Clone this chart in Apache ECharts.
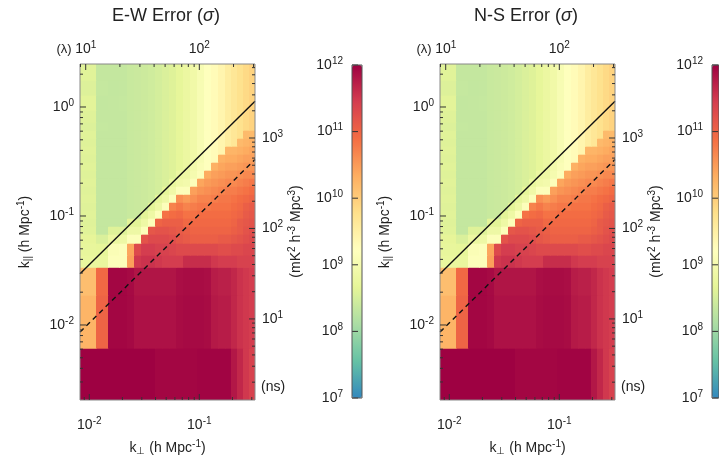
<!DOCTYPE html>
<html><head><meta charset="utf-8">
<script src="https://cdn.jsdelivr.net/npm/echarts@6/dist/echarts.min.js"></script>
<style>html,body{margin:0;padding:0;background:#fff}#c{width:719px;height:465px}</style>
</head><body><div id="c"></div>
<script>
// ---- data ----
const kperpEdges = [0.00823,0.01151,0.01479,0.01862,0.0220,0.0255,0.02951,0.03418,0.03956,0.0458,0.05303,0.0614,0.07108,0.08232,0.0953,0.1103,0.1278,0.1479,0.1713,0.1942,0.2201,0.2496,0.283,0.3209];
const kparEdges = [0.00205,0.00615,0.01884,0.034,0.0439,0.0565,0.0684,0.0809,0.0959,0.1135,0.1343,0.159,0.1884,0.2232,0.2643,0.3129,0.3706,0.4388,0.5196,0.6152,0.7286,0.9387,1.288,1.769,2.48];
// log10 power, rows listed from the top (highest k_par) down to the bottom
const ewPower = [
[8.62,8.35,8.35,8.35,8.38,8.4,8.42,8.45,8.5,8.55,8.6,8.7,8.8,8.9,9.05,9.2,9.3,9.4,9.55,9.65,9.75,9.85,9.92],
[8.58,8.36,8.34,8.35,8.38,8.4,8.42,8.45,8.5,8.55,8.6,8.7,8.8,8.9,9.05,9.2,9.3,9.4,9.55,9.65,9.75,9.85,9.92],
[8.64,8.34,8.35,8.36,8.38,8.4,8.42,8.45,8.5,8.55,8.6,8.7,8.8,8.9,9.05,9.2,9.3,9.4,9.55,9.65,9.75,9.85,9.92],
[8.6,8.35,8.35,8.35,8.38,8.4,8.42,8.45,8.5,8.55,8.6,8.7,8.8,8.9,9.05,9.2,9.3,9.4,9.55,9.65,9.75,9.85,9.92],
[8.57,8.36,8.35,8.35,8.38,8.4,8.42,8.45,8.5,8.55,8.6,8.7,8.8,8.9,9.05,9.2,9.3,9.4,9.55,9.65,9.75,9.85,9.92],
[8.62,8.35,8.35,8.35,8.38,8.4,8.42,8.45,8.5,8.55,8.6,8.7,8.8,8.9,9.05,9.2,9.3,9.4,9.55,9.65,9.75,10.2,10.2],
[8.6,8.35,8.35,8.35,8.38,8.4,8.42,8.45,8.5,8.55,8.6,8.7,8.8,8.9,9.05,9.2,9.3,9.4,9.55,9.65,10.2,10.25,10.3],
[8.62,8.35,8.35,8.35,8.38,8.4,8.42,8.45,8.5,8.55,8.6,8.7,8.8,8.9,9.05,9.2,9.3,9.4,10.25,10.25,10.3,10.35,10.4],
[8.6,8.35,8.35,8.35,8.38,8.4,8.42,8.45,8.5,8.55,8.6,8.7,8.8,8.9,9.05,9.2,9.3,10.3,10.35,10.35,10.4,10.45,10.45],
[8.62,8.35,8.35,8.35,8.38,8.4,8.42,8.45,8.5,8.55,8.6,8.7,8.8,8.95,9.1,9.2,10.3,10.4,10.45,10.45,10.5,10.55,10.55],
[8.6,8.35,8.35,8.35,8.38,8.4,8.42,8.45,8.5,8.55,8.6,8.8,8.85,9.0,9.15,10.35,10.45,10.5,10.55,10.55,10.6,10.65,10.65],
[8.62,8.35,8.35,8.35,8.38,8.4,8.42,8.45,8.5,8.55,8.75,8.9,8.95,9.15,10.4,10.5,10.55,10.6,10.65,10.65,10.7,10.75,10.8],
[8.6,8.35,8.35,8.35,8.38,8.4,8.42,8.45,8.5,8.7,8.9,9.15,9.15,10.45,10.55,10.6,10.65,10.7,10.75,10.75,10.8,10.85,10.9],
[8.62,8.35,8.35,8.35,8.38,8.4,8.42,8.45,8.7,8.85,9.15,10.6,10.5,10.6,10.7,10.7,10.75,10.8,10.8,10.85,10.9,10.95,11.0],
[8.6,8.35,8.35,8.35,8.38,8.4,8.42,8.65,8.85,9.15,10.7,10.8,10.7,10.75,10.8,10.8,10.85,10.85,10.85,10.9,10.95,11.05,11.1],
[8.62,8.35,8.35,8.35,8.38,8.4,8.65,8.85,9.15,10.85,10.9,10.95,10.85,10.85,10.9,10.9,10.9,10.9,10.9,10.95,11.0,11.1,11.15],
[8.6,8.35,8.35,8.35,8.65,8.65,8.85,9.15,11.0,11.05,11.05,11.05,10.95,10.95,10.95,10.95,10.95,10.95,10.95,11.0,11.1,11.15,11.2],
[8.62,8.35,8.6,8.6,8.85,8.85,9.15,11.15,11.2,11.2,11.15,11.1,11.05,11.0,11.0,11.0,11.0,11.0,11.0,11.05,11.1,11.2,11.25],
[8.68,8.55,8.8,8.85,9.15,9.15,11.2,11.3,11.3,11.3,11.25,11.15,11.1,11.05,11.05,11.05,11.05,11.1,11.1,11.15,11.2,11.25,11.3],
[8.72,8.7,9.1,9.15,10.4,11.3,11.45,11.45,11.4,11.4,11.35,11.3,11.3,11.3,11.3,11.3,11.3,11.25,11.25,11.3,11.3,11.35,11.35],
[8.75,8.75,9.15,9.15,10.45,11.5,11.55,11.55,11.5,11.45,11.45,11.45,11.6,11.6,11.6,11.6,11.5,11.45,11.45,11.45,11.4,11.4,11.4],
[10.15,10.95,11.95,11.95,11.92,11.82,11.82,11.82,11.82,11.82,11.82,11.88,11.9,11.9,11.9,11.88,11.75,11.72,11.72,11.65,11.55,11.5,11.45],
[10.25,11.0,11.95,11.95,11.93,11.85,11.85,11.85,11.85,11.85,11.85,11.9,11.92,11.92,11.92,11.9,11.78,11.75,11.75,11.65,11.55,11.5,11.45],
[12.0,12.0,12.0,12.0,12.0,12.0,12.0,12.0,11.95,11.95,11.95,11.95,11.95,11.95,11.97,11.97,11.97,11.97,11.97,11.8,11.65,11.5,11.4]
];
// N-S panel reads the same as E-W in the picture
const nsPower = ewPower;
const horizonLine = [[0.00823,0.0295],[0.3209,1.13]];
const dashedLine = [[0.00823,0.0086],[0.3209,0.33]];
const kperpMajor = [0.01,0.1];
const kperpMinor = [0.009,0.02,0.03,0.04,0.05,0.06,0.07,0.08,0.09,0.2,0.3];
const lambdaMajor = [10,100];
const lambdaMinor = [9,20,30,40,50,60,70,80,90,200,300];
const kparMajor = [0.01,0.1,1];
const kparMinor = [0.003,0.004,0.005,0.006,0.007,0.008,0.009,0.02,0.03,0.04,0.05,0.06,0.07,0.08,0.09,0.2,0.3,0.4,0.5,0.6,0.7,0.8,0.9,2];
const delayMajor = [10,100,1000];
const delayMinor = [2,3,4,5,6,7,8,9,20,30,40,50,60,70,80,90,200,300,400,500,600,700,800,900,2000,3000,4000,5000,6000];
const cbarTicks = [1e7,1e8,1e9,1e10,1e11,1e12];
const titles = ['E-W Error ({i|σ})','N-S Error ({i|σ})'];

// ---- chart ----
const FONT = '"Liberation Sans", Arial, Helvetica, sans-serif';
const TXT = '#222';
const spectral = ['#3288bd','#66c2a5','#abdda4','#e6f598','#ffffbf','#fee08b','#fdae61','#f46d43','#d53e4f','#9e0142'];
const rich = {
  b:{fontSize:14,fontFamily:FONT,color:TXT},
  s:{fontSize:10,fontFamily:FONT,color:TXT,padding:[0,0,8,0]}
};
const nameRich = {
  b:{fontSize:14,fontFamily:FONT,color:TXT},
  s:{fontSize:10,fontFamily:FONT,color:TXT,padding:[0,0,8,0]},
  u:{fontSize:10,fontFamily:FONT,color:TXT,padding:[7,0,0,0]}
};
function powFmt(v){ return '{b|10}{s|' + Math.round(Math.log10(v)) + '}'; }
const TICK = '#333';

const PX = [80, 440];
const grids = [], xAxes = [], yAxes = [], series = [], visualMaps = [], graphics = [];
const kpMin = kperpEdges[0], kpMax = kperpEdges[kperpEdges.length-1];
const kzMin = kparEdges[0], kzMax = kparEdges[kparEdges.length-1];

function cells(power){
  const out = [];
  const nr = kparEdges.length-1;
  for (let r=0;r<nr;r++){
    const row = power[nr-1-r];
    for (let c=0;c<kperpEdges.length-1;c++){
      out.push([kperpEdges[c],kperpEdges[c+1],kparEdges[r],kparEdges[r+1],row[c]]);
    }
  }
  return out;
}
function renderCell(params, api){
  const p0 = api.coord([api.value(0), api.value(2)]);
  const p1 = api.coord([api.value(1), api.value(3)]);
  return {type:'rect', shape:{x:p0[0], y:p1[1], width:p1[0]-p0[0]+0.7, height:p0[1]-p1[1]+0.7},
          style:{fill:api.visual('color')}};
}
// tick marks drawn through the axes' scales; side: 'bottom','top','left','right'
function tickSeries(side, xi, yi, major, minor, refX, refY){
  const data = major.map(v => [v, 6]).concat(minor.map(v => [v, 3]));
  return {type:'custom', coordinateSystem:'cartesian2d', xAxisIndex:xi, yAxisIndex:yi, clip:false, silent:true, z:8,
    encode:(side==='bottom'||side==='top') ? {x:0} : {y:0},
    data:data,
    renderItem:function(params, api){
      const cs = params.coordSys, v = api.value(0), len = api.value(1);
      let s;
      if (side==='bottom'){ const x = api.coord([v, refY])[0]; s = {x1:x,y1:cs.y+cs.height,x2:x,y2:cs.y+cs.height-len}; }
      else if (side==='top'){ const x = api.coord([v, refY])[0]; s = {x1:x,y1:cs.y,x2:x,y2:cs.y+len}; }
      else if (side==='left'){ const y = api.coord([refX, v])[1]; s = {x1:cs.x,y1:y,x2:cs.x+len,y2:y}; }
      else { const y = api.coord([refX, v])[1]; s = {x1:cs.x+cs.width,y1:y,x2:cs.x+cs.width-len,y2:y}; }
      return {type:'line', shape:s, style:{stroke:TICK, lineWidth:1}};
    }};
}

[ewPower, nsPower].forEach((power, g) => {
  const gi = 2*g;            // panel grid index
  grids.push({left:PX[g], top:64, width:175, height:336, show:true, borderColor:'#888', borderWidth:1, backgroundColor:'transparent', z:5});
  // colorbar grid
  grids.push({left:PX[g]+272, top:65, width:10, height:333, show:true, borderColor:'#555', borderWidth:1, backgroundColor:'transparent', z:10});
  const xb = xAxes.length, xt = xb+1, yl = yAxes.length, yr = yl+1;
  xAxes.push({gridIndex:gi, type:'log', logBase:10, min:kpMin, max:kpMax, position:'bottom',
    axisLine:{show:false}, splitLine:{show:false}, axisTick:{show:false},
    axisLabel:{show:true, customValues:kperpMajor, formatter:powFmt, rich:rich, margin:16},
    name:'{b|k}{u|⊥}{b| (h Mpc}{s|-1}{b|)}', nameLocation:'middle', nameGap:39, nameTextStyle:{rich:nameRich}});
  xAxes.push({gridIndex:gi, type:'log', logBase:10, min:8.91, max:309, position:'top',
    axisLine:{show:false}, splitLine:{show:false}, axisTick:{show:false},
    axisLabel:{show:true, customValues:lambdaMajor, formatter:powFmt, rich:rich, margin:6}});
  yAxes.push({gridIndex:gi, type:'log', logBase:10, min:kzMin, max:kzMax, position:'left',
    axisLine:{show:false}, splitLine:{show:false}, axisTick:{show:false},
    axisLabel:{show:true, customValues:kparMajor, formatter:powFmt, rich:rich, margin:6},
    name:'{b|k}{u|||}{b| (h Mpc}{s|-1}{b|)}', nameLocation:'middle', nameGap:46, nameRotate:90, nameTextStyle:{rich:nameRich}});
  yAxes.push({gridIndex:gi, type:'log', logBase:10, min:1.27, max:6580, position:'right',
    axisLine:{show:false}, splitLine:{show:false}, axisTick:{show:false},
    axisLabel:{show:true, customValues:delayMajor, formatter:powFmt, rich:rich, margin:7}});
  // colorbar axes
  const xc = xAxes.length, yc = yAxes.length;
  xAxes.push({gridIndex:gi+1, type:'value', show:false, min:0, max:1});
  yAxes.push({gridIndex:gi+1, type:'log', logBase:10, min:1e7, max:1e12, position:'left',
    axisLine:{show:false}, splitLine:{show:false}, axisTick:{show:false},
    axisLabel:{show:true, customValues:cbarTicks, formatter:powFmt, rich:rich, margin:9},
    name:'{b|(mK}{s|2}{b| h}{s|-3}{b| Mpc}{s|3}{b|)}', nameLocation:'middle', nameGap:47, nameRotate:90, nameTextStyle:{rich:nameRich}});

  const hmIndex = series.length;
  series.push({type:'custom', name:'power'+g, coordinateSystem:'cartesian2d', xAxisIndex:xb, yAxisIndex:yl,
    renderItem:renderCell, encode:{x:[0,1], y:[2,3]}, clip:true, data:cells(power), z:2, silent:true});
  series.push({type:'line', xAxisIndex:xb, yAxisIndex:yl, data:horizonLine, showSymbol:false, symbol:'none',
    lineStyle:{color:'#111', width:1.4}, z:4, silent:true});
  series.push({type:'line', xAxisIndex:xb, yAxisIndex:yl, data:dashedLine, showSymbol:false, symbol:'none',
    lineStyle:{color:'#111', width:1.4, type:[5,4]}, z:4, silent:true});
  series.push(tickSeries('bottom', xb, yl, kperpMajor, kperpMinor, kpMin, kzMin));
  series.push(tickSeries('top', xt, yl, lambdaMajor, lambdaMinor, 10, kzMin));
  series.push(tickSeries('left', xb, yl, kparMajor, kparMinor, kpMin, kzMin));
  series.push(tickSeries('right', xb, yr, delayMajor, delayMinor, kpMin, 10));
  series.push(tickSeries('left', xc, yc, cbarTicks, [], 0, 1e7));

  visualMaps.push({type:'continuous', seriesIndex:hmIndex, dimension:4, min:7, max:12, inRange:{color:spectral},
    left:PX[g]+272, top:65, itemWidth:10, itemHeight:333, calculable:false, padding:0, text:null, showLabel:false, z:1});

  graphics.push({type:'text', x:PX[g]+86, y:16, style:{text:titles[g], fontSize:18, fontFamily:FONT, fill:TXT, align:'center', verticalAlign:'middle',
    rich:{i:{fontStyle:'italic', fontSize:18, fontFamily:FONT, fill:TXT}}}});
  graphics.push({type:'text', x:PX[g]-16, y:49, style:{text:'(λ)', fontSize:13, fontFamily:FONT, fill:TXT, align:'center', verticalAlign:'middle'}});
  graphics.push({type:'text', x:PX[g]+181, y:387, style:{text:'(ns)', fontSize:14, fontFamily:FONT, fill:TXT, align:'left', verticalAlign:'middle'}});
});

const chart = echarts.init(document.getElementById('c'), null, {renderer:'canvas'});
chart.setOption({
  animation:false,
  backgroundColor:'#fff',
  grid:grids, xAxis:xAxes, yAxis:yAxes, series:series, visualMap:visualMaps, graphic:graphics
});
</script></body></html>
